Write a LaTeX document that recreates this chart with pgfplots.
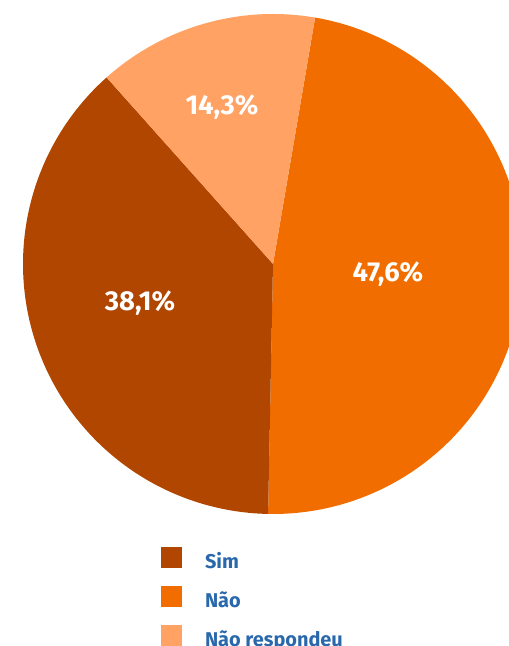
\documentclass[border=0pt]{standalone}
\usepackage{fontspec}
\setmainfont{Fira Sans}
\usepackage{pgfplots}
\usepackage{pgfplotstable}
\pgfplotsset{compat=1.18}
\definecolor{sim}{HTML}{B04600}
\definecolor{nao}{HTML}{F26D00}
\definecolor{nr}{HTML}{FFA263}
\definecolor{leg}{HTML}{2A68AC}
\pgfplotstableread{
label count
Sim 8
Nao 10
NR 3
}\data
\pgfplotstablegetelem{0}{count}\of\data\let\cSim\pgfplotsretval
\pgfplotstablegetelem{1}{count}\of\data\let\cNao\pgfplotsretval
\pgfplotstablegetelem{2}{count}\of\data\let\cNR\pgfplotsretval
\pgfmathsetmacro\tot{\cSim+\cNao+\cNR}
\pgfmathsetmacro\aStart{80.3}
\pgfmathsetmacro\aNao{\aStart-\cNao/\tot*360}
\pgfmathsetmacro\aSim{\aNao-\cSim/\tot*360}
\pgfmathsetmacro\aNR{\aSim-\cNR/\tot*360}
\begin{document}
\begin{tikzpicture}
\begin{axis}[
  name=pie,
  width=509bp,height=646bp,scale only axis,
  xmin=0,xmax=509,ymin=0,ymax=646,
  hide axis, clip=true,
  legend cell align=left,
  legend style={at={(axis cs:161,99)}, anchor=north west, draw=none, fill=none,
    inner sep=0pt, outer sep=0pt,
    font=\bfseries\fontsize{20}{20}\selectfont, text=leg,
    row sep=18bp, column sep=23bp,
    nodes={inner sep=0pt, text height=21bp, text depth=0bp}},
  legend image code/.code={\fill[#1] (0bp,-10.5bp) rectangle (21bp,10.5bp);},
]
\addplot[fill=nao, draw=none, domain=\aNao:\aStart, samples=180, forget plot]
  ({273+250*cos(x)},{382+250*sin(x)}) -- (axis cs:273,382) -- cycle;
\addplot[fill=sim, draw=none, domain=\aSim:\aNao, samples=160, forget plot]
  ({273+250*cos(x)},{382+250*sin(x)}) -- (axis cs:273,382) -- cycle;
\addplot[fill=nr, draw=none, domain=\aNR:\aSim, samples=80, forget plot]
  ({273+250*cos(x)},{382+250*sin(x)}) -- (axis cs:273,382) -- cycle;
\node[font=\bfseries\fontsize{27.5}{27.5}\selectfont, text=white] at (axis cs:140,343) {38,1\%};
\node[font=\bfseries\fontsize{27.5}{27.5}\selectfont, text=white] at (axis cs:388,372) {47,6\%};
\node[font=\bfseries\fontsize{27.5}{27.5}\selectfont, text=white] at (axis cs:222,539) {14,3\%};
\addlegendimage{fill=sim, draw=none}\addlegendentry{Sim}
\addlegendimage{fill=nao, draw=none}\addlegendentry{Não}
\addlegendimage{fill=nr, draw=none}\addlegendentry{Não respondeu}
\end{axis}
\pgfresetboundingbox
\path (pie.south west) rectangle (pie.north east);
\end{tikzpicture}
\end{document}
